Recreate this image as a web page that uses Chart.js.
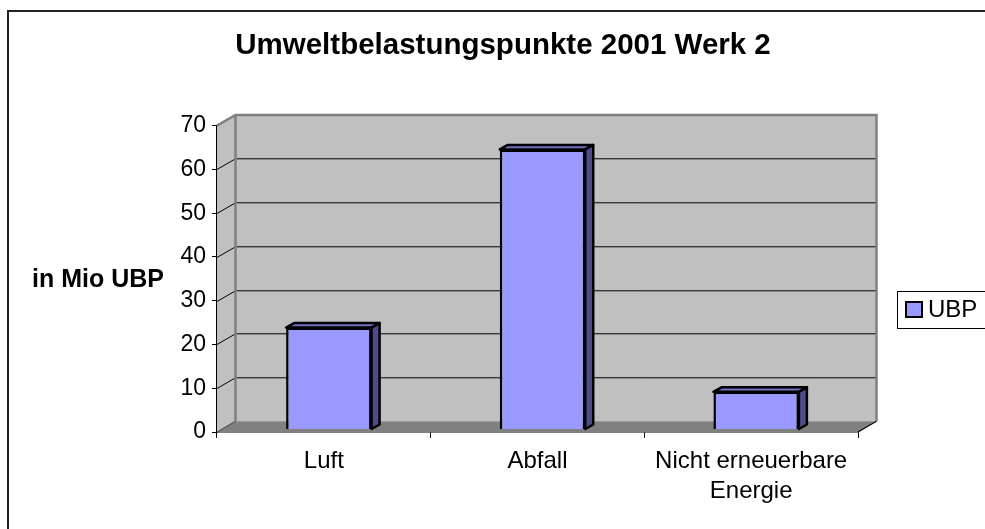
<!DOCTYPE html>
<html>
<head>
<meta charset="utf-8">
<script src="https://cdn.jsdelivr.net/npm/chart.js@4"></script>
<style>
  html, body { margin: 0; padding: 0; background: #fff; }
  #wrap { width: 985px; height: 529px; }
</style>
</head>
<body>
<div id="wrap"><canvas id="chart" width="985" height="529"></canvas></div>
<script>
const FONT = '"Liberation Sans", Arial, sans-serif';

const titel     = 'Umweltbelastungspunkte 2001 Werk 2';
const yTitel    = 'in Mio UBP';
const kategorien = ['Luft', 'Abfall', ['Nicht erneuerbare', 'Energie']];
const serie     = 'UBP';
const werte     = [23.3, 64, 8.6];
const yMin = 0, yMax = 70, yStep = 10;

const BAR   = '#9999ff';
const SIDE  = '#4d4d8c';
const TOP   = '#7070c0';
const WALL  = '#c0c0c0';
const EDGE  = '#808080';
const FLOOR = '#808080';

// 3D depth of the wall box and of the bars inside it
const DEPTH = { x: 18.5, y: -10.7 };
const BARSHIFT = { x: 5, y: -2.5 };
const BARDEPTH = { x: 8, y: -4.5 };

Chart.defaults.font.family = FONT;
Chart.defaults.color = '#000';

const box3d = {
  id: 'box3d',
  beforeDatasetsDraw(chart) {
    const { ctx, chartArea: a } = chart;
    const y = chart.scales.y;
    const dx = DEPTH.x, dy = DEPTH.y;
    ctx.save();
    // left wall
    ctx.fillStyle = WALL;
    ctx.beginPath();
    ctx.moveTo(a.left, a.top); ctx.lineTo(a.left + dx, a.top + dy);
    ctx.lineTo(a.left + dx, a.bottom + dy); ctx.lineTo(a.left, a.bottom);
    ctx.closePath(); ctx.fill();
    // back wall
    ctx.fillRect(a.left + dx, a.top + dy, a.right - a.left, a.bottom - a.top);
    // floor
    ctx.fillStyle = FLOOR;
    ctx.beginPath();
    ctx.moveTo(a.left, a.bottom); ctx.lineTo(a.right, a.bottom);
    ctx.lineTo(a.right + dx, a.bottom + dy); ctx.lineTo(a.left + dx, a.bottom + dy);
    ctx.closePath(); ctx.fill();
    // grid lines on walls
    ctx.strokeStyle = '#000';
    ctx.lineWidth = 1;
    for (let v = yMin + yStep; v < yMax; v += yStep) {
      const p = Math.round(y.getPixelForValue(v)) + 0.5;
      ctx.beginPath();
      ctx.moveTo(a.left, p);
      ctx.lineTo(a.left + dx, p + dy);
      ctx.lineTo(a.right + dx, p + dy);
      ctx.stroke();
    }
    // wall edges
    ctx.strokeStyle = EDGE;
    ctx.lineWidth = 2.5;
    ctx.beginPath();
    ctx.moveTo(a.left, a.top); ctx.lineTo(a.left + dx, a.top + dy);
    ctx.lineTo(a.right + dx, a.top + dy); ctx.lineTo(a.right + dx, a.bottom + dy);
    ctx.moveTo(a.left + dx, a.top + dy); ctx.lineTo(a.left + dx, a.bottom + dy);
    ctx.stroke();
    // floor edges
    ctx.lineWidth = 1.2;
    ctx.strokeStyle = '#555';
    ctx.beginPath();
    ctx.moveTo(a.left, a.bottom); ctx.lineTo(a.left + dx, a.bottom + dy);
    ctx.stroke();
    ctx.strokeStyle = '#000';
    ctx.beginPath();
    ctx.moveTo(a.right, a.bottom); ctx.lineTo(a.right + dx, a.bottom + dy);
    ctx.stroke();
    ctx.restore();

    ctx.save();
    ctx.translate(BARSHIFT.x, BARSHIFT.y);
  },
  afterDatasetsDraw(chart) {
    const { ctx } = chart;
    const bx = BARDEPTH.x, by = BARDEPTH.y;
    chart.getDatasetMeta(0).data.forEach(bar => {
      const l = bar.x - bar.width / 2, r = bar.x + bar.width / 2;
      const t = bar.y, b = bar.base;
      ctx.lineWidth = 2.5;
      ctx.strokeStyle = '#000';
      ctx.lineJoin = 'round';
      ctx.fillStyle = TOP;
      ctx.beginPath();
      ctx.moveTo(l, t); ctx.lineTo(l + bx, t + by); ctx.lineTo(r + bx, t + by); ctx.lineTo(r, t);
      ctx.closePath(); ctx.fill(); ctx.stroke();
      ctx.fillStyle = SIDE;
      ctx.beginPath();
      ctx.moveTo(r, t); ctx.lineTo(r + bx, t + by); ctx.lineTo(r + bx, b + by); ctx.lineTo(r, b);
      ctx.closePath(); ctx.fill(); ctx.stroke();
    });
    ctx.restore();
  },
  afterDraw(chart) {
    const { ctx } = chart;
    ctx.save();
    // outer frame
    ctx.strokeStyle = '#222';
    ctx.lineWidth = 2;
    ctx.strokeRect(8, 11, 1100, 1000);
    // title
    ctx.fillStyle = '#000';
    ctx.font = 'bold 29.5px ' + FONT;
    ctx.textAlign = 'center';
    ctx.textBaseline = 'middle';
    ctx.fillText(titel, 503, 46);
    // y title (horizontal)
    ctx.font = 'bold 25px ' + FONT;
    ctx.textAlign = 'left';
    ctx.fillText(yTitel, 32, 280);
    // legend
    ctx.lineWidth = 1;
    ctx.strokeStyle = '#000';
    ctx.strokeRect(897.5, 291.5, 200, 37);
    ctx.fillStyle = BAR;
    ctx.fillRect(906, 302, 16, 15);
    ctx.lineWidth = 2;
    ctx.strokeRect(906, 302, 16, 15);
    ctx.fillStyle = '#000';
    ctx.font = '24px ' + FONT;
    ctx.fillText(serie, 928, 310);
    ctx.restore();
  }
};

new Chart(document.getElementById('chart'), {
  type: 'bar',
  data: {
    labels: kategorien,
    datasets: [{ label: serie, data: werte, backgroundColor: BAR, borderColor: '#000', borderWidth: 2.5,
                 barPercentage: 0.4, categoryPercentage: 1 }]
  },
  options: {
    responsive: false,
    devicePixelRatio: 1,
    animation: false,
    layout: { padding: { top: 125.7, right: 127, left: 0, bottom: 0 } },
    plugins: { legend: { display: false }, tooltip: { enabled: false } },
    scales: {
      x: {
        afterFit: s => { s.height = 97; },
        grid: { drawOnChartArea: false, color: '#000', tickLength: 6, offset: true },
        border: { color: '#000', width: 1.5 },
        ticks: { font: { size: 24, lineHeight: 1.25 }, padding: 8, maxRotation: 0, autoSkip: false }
      },
      y: {
        min: yMin, max: yMax,
        afterFit: s => { s.width = 217; },
        grid: { drawOnChartArea: false, color: '#000', tickLength: 5 },
        border: { color: '#000', width: 1.5 },
        ticks: { stepSize: yStep, font: { size: 23 }, padding: 6 }
      }
    }
  },
  plugins: [box3d]
});
</script>
</body>
</html>
